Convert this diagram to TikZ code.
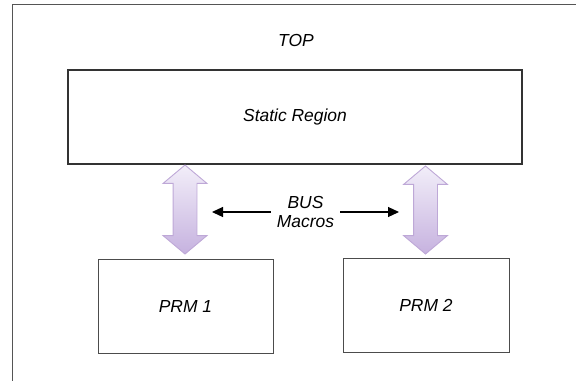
\documentclass[tikz,border=0pt]{standalone}
\usepackage{fontspec}
\setmainfont{Liberation Sans}
\usetikzlibrary{shapes.arrows,arrows.meta}
\definecolor{frameline}{RGB}{85,85,85}
\definecolor{busedge}{RGB}{190,168,215}
\definecolor{buslight}{RGB}{242,238,249}
\definecolor{busdark}{RGB}{198,178,223}
\begin{document}
\begin{tikzpicture}[x=1bp,y=-1bp,
    every node/.style={font=\fontsize{17.5}{19}\selectfont\itshape},
    region/.style={draw=black!80, line width=1.1bp, minimum height=94bp, inner sep=0pt},
    busarrow/.style={double arrow, rotate=90, draw=busedge, line width=0.9bp,
      top color=buslight, bottom color=busdark, inner xsep=0pt, inner ysep=11.5bp,
      minimum width=43bp, double arrow head extend=10bp, double arrow tip angle=100},
    busline/.style={line width=1.2bp, ->, >={Stealth[length=11bp,width=10bp,inset=0bp]}}]
  \useasboundingbox (0,0) rectangle (576,381);
  \draw[frameline, line width=1bp] (576,4) -- (12,4) -- (12,381);
  \node (top) at (296,40) {TOP};
  \node[region, minimum width=454bp] (static) at (295,117) {Static Region};
  \node[region, draw=black!70, line width=1bp, minimum width=175bp] (prm1) at (185.5,306) {PRM 1};
  \node[region, draw=black!70, line width=1bp, minimum width=166bp] (prm2) at (426,305.5) {PRM 2};
  % bus macro arrows
  \node[busarrow, minimum height=89bp] (arrL) at (185,209.5) {};
  \node[busarrow, minimum height=88bp] (arrR) at (425.5,210) {};
  \node[align=center, inner xsep=6bp] (bus) at (305.5,212) {BUS\\Macros};
  \coordinate (tipL) at (212,212);
  \coordinate (tipR) at (399,212);
  \draw[busline] (bus.west) -- (tipL);
  \draw[busline] (bus.east) -- (tipR);
\end{tikzpicture}
\end{document}
